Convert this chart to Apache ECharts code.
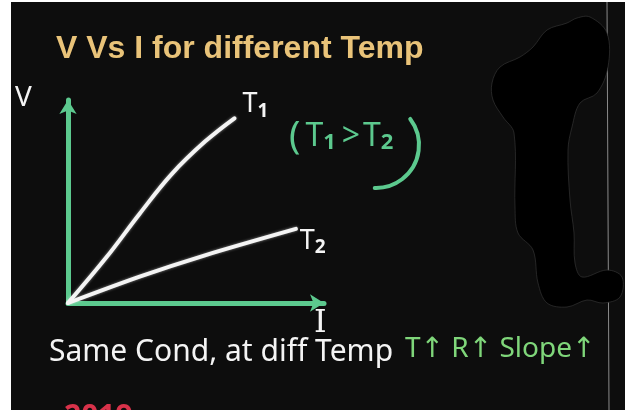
<!DOCTYPE html>
<html>
<head>
<meta charset="utf-8">
<script src="https://cdn.jsdelivr.net/npm/echarts@6/dist/echarts.min.js"></script>
<style>
  html, body { margin: 0; padding: 0; background: #fff; }
  #chart { width: 625px; height: 412px; }
</style>
</head>
<body>
<div id="chart"></div>
<script>
// Current I (x) and voltage V (y), arbitrary units on a 0–10 scale
const currentT1 = [0, 1.5, 2.8, 4.05, 5.35, 6.5];
const voltageT1 = [0, 2.25, 4.4, 6.35, 7.95, 9.1];
const currentT2 = [0, 2.8, 5.35, 8.9];
const voltageT2 = [0, 1.3, 2.35, 3.65];
const seriesNames = ['T1', 'T2'];
const titleText = 'V Vs I for different Temp';
const yName = 'V';
const xName = 'I';
const noteText = 'Same Cond, at diff Temp';
const trendText = 'T\u2191 R\u2191 Slope\u2191';

const GREEN = '#5cc98e';
const CHALK = '#f4f4f4';
const HAND = '"Noto Sans", "DejaVu Sans", sans-serif';

function pairs(xs, ys) { return xs.map((x, i) => [x, ys[i]]); }

function subLabel(name) {
  return '{t|' + name.charAt(0) + '}{s|' + name.slice(1) + '}';
}
const subRich = {
  t: { color: CHALK, fontSize: 27, fontFamily: HAND },
  s: { color: CHALK, fontSize: 19, fontFamily: HAND, fontWeight: 'bold', padding: [14, 0, 0, 0] }
};

// Outline of the black cover-up shape on the right side
const blob = [[590,17],[607,33],[608,67],[597,93],[580,103],[572,127],[568,150],[570,200],
  [574,233],[575,263],[582,277],[607,270],[622,277],[620,297],[603,303],[587,300],[567,307],
  [547,303],[538,283],[533,250],[518,233],[515,207],[514,133],[503,117],[493,100],[492,83],
  [500,67],[520,57],[533,47],[547,30],[567,23],[577,18]];

const chart = echarts.init(document.getElementById('chart'), null, { renderer: 'canvas' });

chart.setOption({
  backgroundColor: '#ffffff',
  animation: false,
  grid: { left: 68, top: 100, width: 256, height: 203, containLabel: false },
  xAxis: {
    type: 'value', min: 0, max: 10,
    axisLine: { show: true, symbol: ['none', 'arrow'], symbolSize: [13, 14], symbolOffset: [0, 0],
      lineStyle: { color: GREEN, width: 5, cap: 'round' } },
    axisTick: { show: false }, axisLabel: { show: false }, splitLine: { show: false }
  },
  yAxis: {
    type: 'value', min: 0, max: 10,
    axisLine: { show: true, symbol: ['none', 'arrow'], symbolSize: [13, 14], symbolOffset: [0, 0],
      lineStyle: { color: GREEN, width: 5, cap: 'round' } },
    axisTick: { show: false }, axisLabel: { show: false }, splitLine: { show: false }
  },
  series: [
    {
      name: seriesNames[0], type: 'line', smooth: 0.4, showSymbol: false, z: 5,
      data: pairs(currentT1, voltageT1),
      lineStyle: { color: CHALK, width: 4, cap: 'round', shadowColor: 'rgba(255,255,255,0.5)', shadowBlur: 3 },
      endLabel: { show: true, formatter: () => subLabel(seriesNames[0]), rich: subRich, offset: [0, -14] }
    },
    {
      name: seriesNames[1], type: 'line', smooth: 0.3, showSymbol: false, z: 5,
      data: pairs(currentT2, voltageT2),
      lineStyle: { color: CHALK, width: 4, cap: 'round', shadowColor: 'rgba(255,255,255,0.5)', shadowBlur: 3 },
      endLabel: { show: true, formatter: () => subLabel(seriesNames[1]), rich: subRich, offset: [-4, 12] }
    }
  ],
  graphic: [
    // dark board
    { type: 'rect', z: -10, shape: { x: 11, y: 2, width: 614, height: 408 }, style: { fill: '#0d0d0d' } },
    { type: 'line', z: -9, shape: { x1: 607, y1: 2, x2: 609, y2: 410 }, style: { stroke: '#8a8a8a', lineWidth: 1 } },
    // cover-up shape
    { type: 'polygon', z: -8, shape: { points: blob, smooth: 0.35 },
      style: { fill: '#000000', stroke: '#3a3a3a', lineWidth: 0.6 } },
    // heading
    { type: 'text', z: 10, left: 56, top: 33,
      style: { text: titleText, fill: '#e9c379', font: 'bold 32px "Liberation Sans", Arial, sans-serif',
        shadowColor: 'rgba(233,195,121,0.6)', shadowBlur: 3 } },
    // axis names
    { type: 'text', z: 10, left: 15, top: 84,
      style: { text: yName, fill: CHALK, font: '28px ' + HAND } },
    { type: 'text', z: 10, left: 314, top: 308,
      style: { text: xName, fill: CHALK, font: '32px "DejaVu Serif", serif' } },
    // temperature relation
    { type: 'text', z: 10, left: 289, top: 118,
      style: {
        text: '{p|(}{t|T}{s|1}{g|>}{t|T}{s|2}',
        rich: {
          p: { fill: GREEN, fontSize: 38, fontFamily: HAND, padding: [0, 5, 0, 0] },
          t: { fill: GREEN, fontSize: 32, fontFamily: HAND },
          s: { fill: GREEN, fontSize: 22, fontFamily: HAND, fontWeight: 'bold', padding: [12, 4, 0, 0] },
          g: { fill: GREEN, fontSize: 32, fontFamily: HAND, padding: [0, 3, 0, 2] }
        }
      } },
    { type: 'arc', z: 10, shape: { cx: 376, cy: 145, r: 43, startAngle: -0.65, endAngle: 1.6 },
      style: { stroke: GREEN, lineWidth: 4, lineCap: 'round', fill: null } },
    // bottom notes
    { type: 'text', z: 10, left: 49, top: 337,
      style: { text: noteText, fill: CHALK, font: '30px ' + HAND } },
    { type: 'text', z: 10, left: 405, top: 335,
      style: { text: trendText, fill: '#7fd67a', font: '28px ' + HAND } },
    // partially visible red year at the lower edge
    { type: 'text', z: 10, left: 64, top: 402,
      style: { text: '2019', fill: '#d8324a', font: 'bold 30px ' + HAND } },
    { type: 'rect', z: 20, shape: { x: 0, y: 410, width: 625, height: 2 }, style: { fill: '#ffffff' } },
    { type: 'rect', z: 20, shape: { x: 0, y: 0, width: 11, height: 412 }, style: { fill: '#ffffff' } }
  ]
});
</script>
</body>
</html>
